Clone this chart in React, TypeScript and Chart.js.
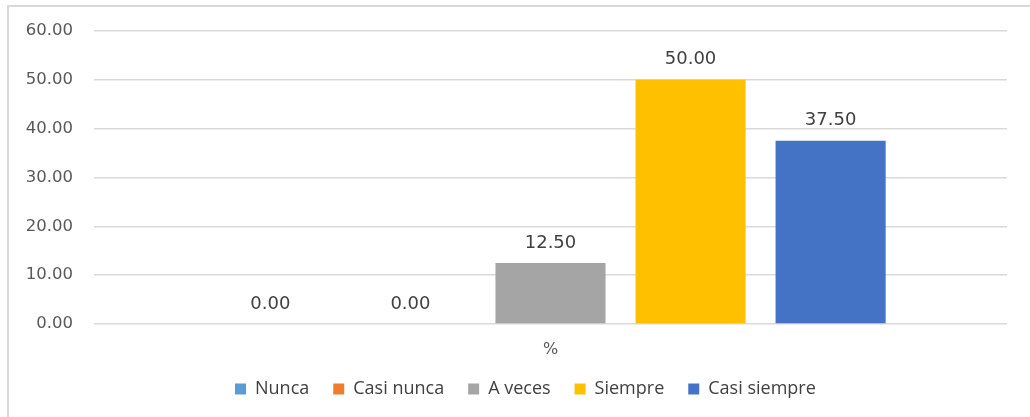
import React, { useEffect, useRef } from "react";
import { Chart, registerables } from "chart.js";

Chart.register(...registerables);

const categories = ["%"];
const seriesNames = ["Nunca", "Casi nunca", "A veces", "Siempre", "Casi siempre"];
const seriesValues = [[0.0], [0.0], [12.5], [50.0], [37.5]];
const seriesColors = ["#5B9BD5", "#ED7D31", "#A5A5A5", "#FFC000", "#4472C4"];
const yMin = 0;
const yMax = 60;
const yStep = 10;

const LEGEND_PAD = 24;
const LEGEND_FONT = 18;

const valueLabels = {
  id: "valueLabels",
  afterDatasetsDraw(chart: any) {
    const ctx = chart.ctx;
    ctx.save();
    ctx.font = "18px 'DejaVu Sans'";
    ctx.fillStyle = "#404040";
    ctx.textAlign = "center";
    ctx.textBaseline = "middle";
    chart.data.datasets.forEach((ds: any, di: number) => {
      const meta = chart.getDatasetMeta(di);
      meta.data.forEach((el: any, i: number) => {
        const v = ds.data[i] as number;
        ctx.fillText(v.toFixed(2), el.x, el.y - 20);
      });
    });
    ctx.restore();
  },
};

const legendPlacer = {
  id: "legendPlacer",
  beforeLayout(chart: any) {
    const l = chart.legend;
    if (l && !l._patched) {
      const f = l.fit.bind(l);
      l.fit = () => {
        f();
        l.height = 0;
      };
      l._patched = true;
    }
  },
  afterLayout(chart: any) {
    const l = chart.legend;
    if (!l) return;
    l.left = 235 - LEGEND_PAD;
    l.right = chart.width;
    l.top = 389 - LEGEND_PAD - LEGEND_FONT / 2;
    l.bottom = l.top + 50;
  },
};

export default function App() {
  const ref = useRef<HTMLCanvasElement>(null);
  useEffect(() => {
    if (!ref.current) return;
    const chart = new Chart(ref.current, {
      type: "bar",
      data: {
        labels: categories,
        datasets: seriesNames.map((name, i) => ({
          label: name,
          data: seriesValues[i],
          backgroundColor: seriesColors[i],
          borderWidth: 0,
          categoryPercentage: 0.767,
          barPercentage: 0.786,
        })),
      },
      options: {
        animation: false,
        responsive: false,
        maintainAspectRatio: false,
        layout: { padding: { left: 0, right: 23, top: 28, bottom: 46 } },
        plugins: {
          tooltip: { enabled: false },
          legend: {
            position: "bottom",
            align: "start",
            labels: {
              boxWidth: 11,
              boxHeight: 11,
              padding: LEGEND_PAD,
              color: "#404040",
              font: { family: "'Open Sans'", size: LEGEND_FONT },
            },
          },
        },
        scales: {
          x: {
            grid: { display: false },
            border: { display: false },
            ticks: {
              color: "#595959",
              font: { family: "'DejaVu Sans'", size: 16 },
              padding: 8,
            },
            afterFit(scale: any) {
              scale.height = 47;
            },
          },
          y: {
            min: yMin,
            max: yMax,
            grid: { color: "#d9d9d9", lineWidth: 1.5, drawTicks: false },
            border: { display: false },
            ticks: {
              stepSize: yStep,
              color: "#595959",
              font: { family: "'DejaVu Sans'", size: 16.5 },
              padding: 21,
              callback: (v: any) => Number(v).toFixed(2),
            },
            afterFit(scale: any) {
              scale.width = 94;
            },
          },
        },
      },
      plugins: [valueLabels, legendPlacer],
    });
    return () => chart.destroy();
  }, []);
  return (
    <div style={{ position: "fixed", left: 0, top: 0, width: 1030, height: 417, background: "#fff" }}>
      <div
        style={{
          position: "absolute",
          left: 7,
          top: 5,
          right: 0,
          bottom: 0,
          borderTop: "2px solid #d9d9d9",
          borderLeft: "2px solid #d9d9d9",
        }}
      />
      <canvas ref={ref} width={1030} height={417} style={{ position: "absolute", left: 0, top: 0 }} />
    </div>
  );
}
